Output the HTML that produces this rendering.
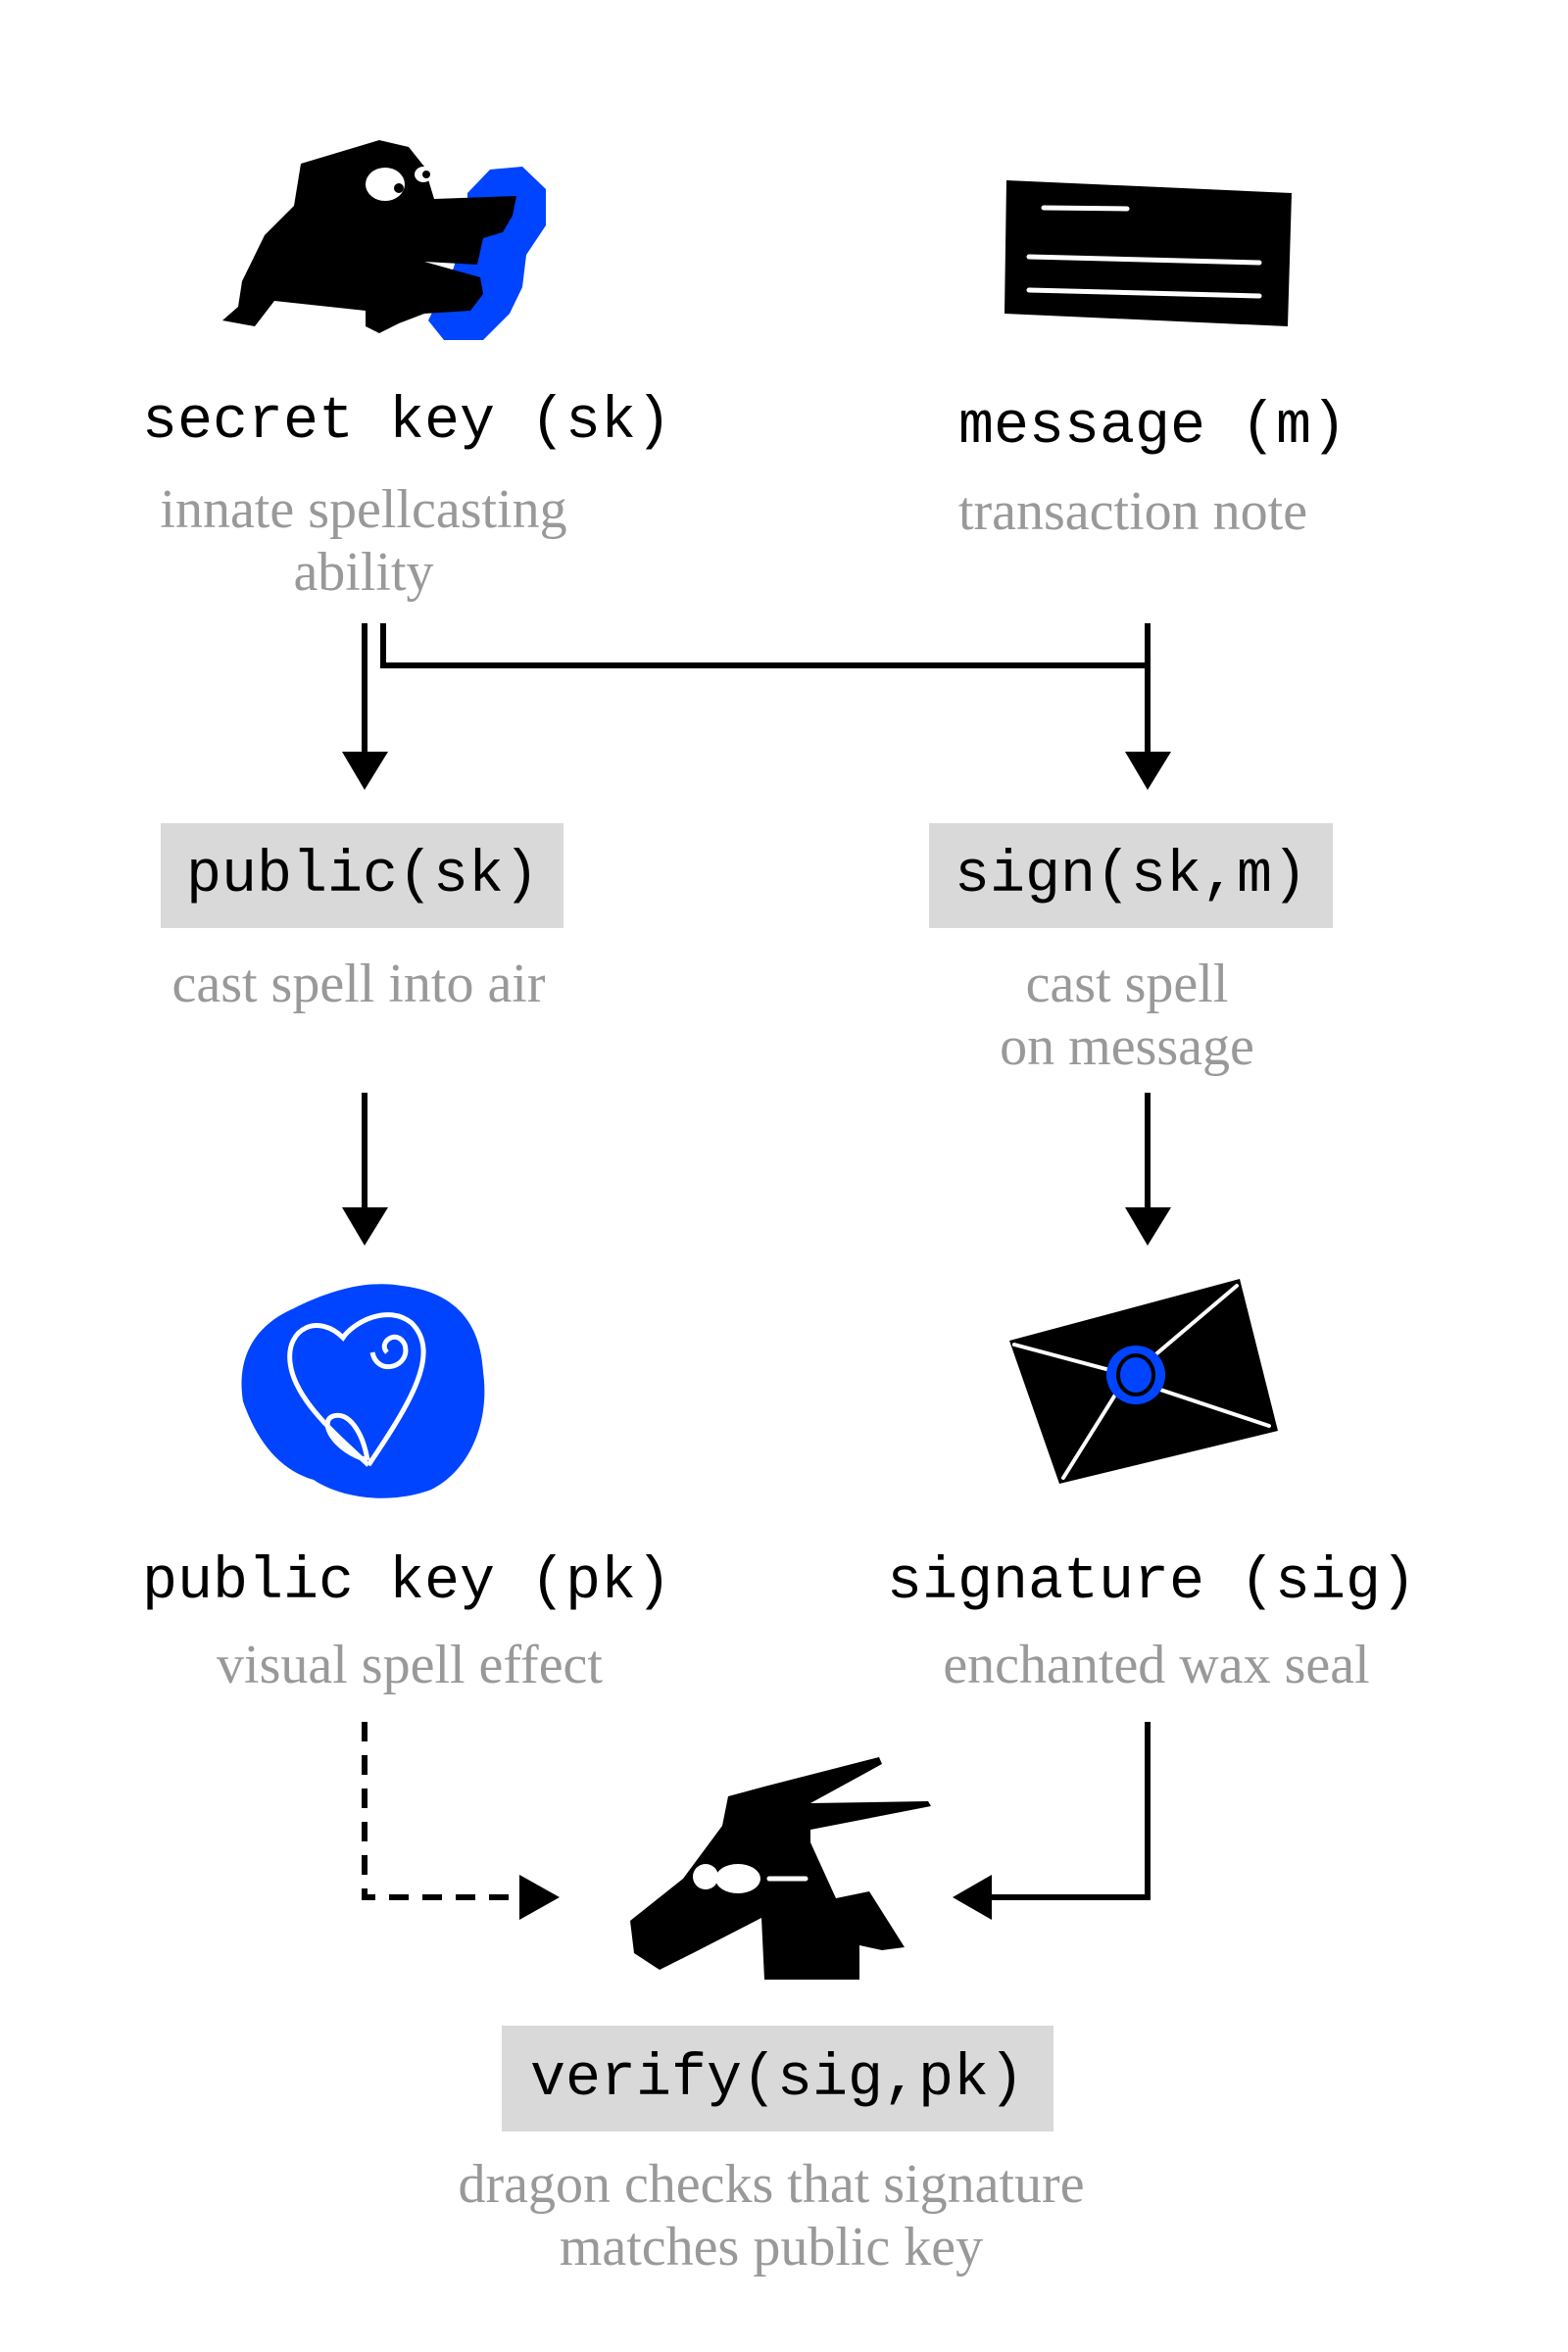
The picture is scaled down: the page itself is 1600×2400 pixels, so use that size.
<!DOCTYPE html>
<html><head><meta charset="utf-8"><style>
html,body{margin:0;padding:0;background:#fff;}
body{width:1600px;height:2400px;position:relative;overflow:hidden;}
.m{position:absolute;font-family:"Liberation Mono",monospace;font-size:60px;color:#000;white-space:nowrap;text-align:center;transform:translate(-50%,-50%);line-height:1;}
.g{position:absolute;font-family:"Liberation Serif",serif;font-size:56px;color:#999;white-space:nowrap;text-align:center;transform:translateX(-50%);line-height:64px;}
.box{position:absolute;background:#d9d9d9;}
svg{position:absolute;left:0;top:0;}
</style></head><body>
<svg width="1600" height="2400" viewBox="0 0 1600 2400">
<!-- wizard -->
<polygon fill="#0044ff" points="477,197 500,173 533,170 557,193 557,230 537,260 533,293 520,320 493,347 453,347 437,327 463,273 477,220"/>
<polygon fill="#000" points="307,167 387,143 417,150 433,170 443,203 527,200 523,220 513,237 493,243 487,270 433,267 490,283 493,300 480,317 433,320 407,330 387,340 373,333 373,317 280,307 260,333 227,327 243,313 247,287 270,240 300,210"/>
<ellipse cx="393" cy="188" rx="20" ry="17" fill="#fff"/>
<circle cx="407" cy="192" r="5" fill="#000"/>
<ellipse cx="432" cy="178" rx="9" ry="8" fill="#fff"/>
<circle cx="435" cy="178" r="4" fill="#000"/>
<!-- message card -->
<polygon fill="#000" points="1027,184 1318,197 1314,333 1025,320"/>
<g stroke="#fff" stroke-width="5" stroke-linecap="round">
<line x1="1065" y1="212" x2="1150" y2="213"/>
<line x1="1050" y1="262" x2="1285" y2="268"/>
<line x1="1050" y1="296" x2="1285" y2="302"/>
</g>
<!-- connectors -->
<g stroke="#000" stroke-width="6" fill="none">
<line x1="372" y1="636" x2="372" y2="772"/>
<polyline points="391,636 391,679 1171,679"/>
<line x1="1171" y1="636" x2="1171" y2="772"/>
<line x1="372" y1="1115" x2="372" y2="1236"/>
<line x1="1171" y1="1115" x2="1171" y2="1236"/>
<polyline stroke-dasharray="20,14" points="372,1757 372,1936 532,1936"/>
<polyline points="1171,1757 1171,1936 1008,1936"/>
</g>
<g fill="#000">
<polygon points="349,767 396,767 372,806"/>
<polygon points="1148,767 1195,767 1171,806"/>
<polygon points="349,1232 396,1232 372,1271"/>
<polygon points="1148,1232 1195,1232 1171,1271"/>
<polygon points="530,1913 530,1959 571,1936"/>
<polygon points="1012,1913 1012,1959 972,1936"/>
</g>
<!-- heart blob -->
<path fill="#0044ff" d="M300,1335 C330,1320 370,1305 410,1312 C460,1318 490,1345 493,1400 C500,1450 480,1500 440,1520 C400,1535 350,1530 320,1510 C285,1500 262,1470 248,1430 C240,1380 265,1350 300,1335 Z"/>
<path fill="none" stroke="#fff" stroke-width="5" d="M376,1495 C350,1470 300,1430 296,1390 C292,1355 325,1340 350,1365 C360,1350 395,1330 420,1350 C450,1380 420,1430 376,1495 M375,1490 C370,1460 355,1440 340,1445 C325,1450 340,1480 375,1490 M395,1380 C385,1370 405,1355 413,1372 C420,1395 385,1405 380,1380"/>
<!-- envelope -->
<polygon fill="#000" points="1030,1368 1265,1305 1304,1460 1081,1514"/>
<g stroke="#fff" stroke-width="4" stroke-linecap="round">
<line x1="1035" y1="1372" x2="1140" y2="1400"/>
<line x1="1262" y1="1312" x2="1170" y2="1390"/>
<line x1="1175" y1="1415" x2="1295" y2="1455"/>
<line x1="1140" y1="1420" x2="1085" y2="1508"/>
</g>
<ellipse cx="1159" cy="1403" rx="30" ry="30" fill="#0044ff"/>
<ellipse cx="1159" cy="1403" rx="18" ry="20" fill="none" stroke="#000" stroke-width="4"/>
<!-- dragon -->
<polygon fill="#000" points="743,1833 780,1823 897,1793 900,1800 827,1840 947,1838 950,1843 827,1867 827,1880 853,1937 887,1930 923,1987 900,1990 877,1985 877,2020 780,2020 777,1957 707,1993 673,2010 647,1993 643,1960 697,1917 717,1890 737,1863"/>
<ellipse cx="753" cy="1917" rx="23" ry="15" fill="#fff"/>
<circle cx="720" cy="1915" r="13" fill="#fff"/>
<line x1="785" y1="1917" x2="822" y2="1917" stroke="#fff" stroke-width="5" stroke-linecap="round"/>
</svg>

<div class="m" style="left:415px;top:431px">secret key (sk)</div>
<div class="m" style="left:1176px;top:436px">message (m)</div>
<div class="g" style="left:371px;top:488px">innate spellcasting<br>ability</div>
<div class="g" style="left:1156px;top:490px">transaction note</div>

<div class="box" style="left:164px;top:840px;width:411px;height:107px"></div>
<div class="m" style="left:370px;top:894px">public(sk)</div>
<div class="box" style="left:948px;top:840px;width:412px;height:107px"></div>
<div class="m" style="left:1154px;top:894px">sign(sk,m)</div>
<div class="g" style="left:366px;top:972px">cast spell into air</div>
<div class="g" style="left:1150px;top:972px">cast spell<br>on message</div>

<div class="m" style="left:415px;top:1615px">public key (pk)</div>
<div class="m" style="left:1175px;top:1615px">signature (sig)</div>
<div class="g" style="left:418px;top:1667px">visual spell effect</div>
<div class="g" style="left:1180px;top:1667px">enchanted wax seal</div>

<div class="box" style="left:512px;top:2067px;width:563px;height:108px"></div>
<div class="m" style="left:793px;top:2122px">verify(sig,pk)</div>
<div class="g" style="left:787px;top:2197px">dragon checks that signature<br>matches public key</div>
</body></html>
